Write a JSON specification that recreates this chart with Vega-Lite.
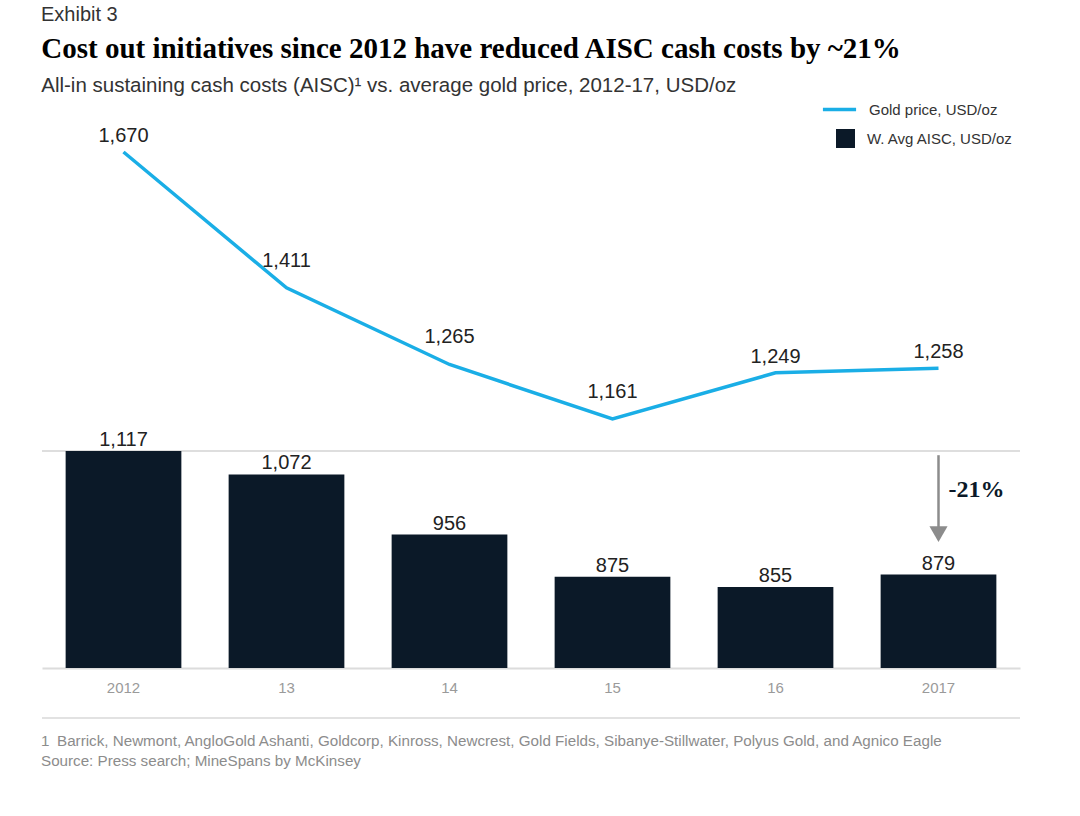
{
  "$schema": "https://vega.github.io/schema/vega-lite/v6.json",
  "background": "white",
  "padding": {"left": 41, "top": 4, "right": 20, "bottom": 10},
  "autosize": {"type": "pad"},
  "config": {"view": {"stroke": null}, "font": "Liberation Sans"},
  "title": {"text": "Exhibit 3", "anchor": "start", "font": "Liberation Sans", "fontSize": 20, "fontWeight": "normal", "color": "#333333", "offset": 10},
  "spacing": 22,
  "vconcat": [
    {
      "width": 978,
      "height": 550,
      "title": {
        "text": "Cost out initiatives since 2012 have reduced AISC cash costs by ~21%",
        "subtitle": "All-in sustaining cash costs (AISC)¹ vs. average gold price, 2012-17, USD/oz",
        "anchor": "start",
        "font": "Liberation Serif",
        "fontSize": 29,
        "fontWeight": "bold",
        "color": "#000000",
        "subtitleFont": "Liberation Sans",
        "subtitleFontSize": 20.5,
        "subtitleColor": "#333333",
        "subtitlePadding": 12,
        "offset": 22
      },
      "data": {"values": [
        {"yr": "2012", "gold": 1670, "aisc": 1117, "grp": "a"},
        {"yr": "13", "gold": 1411, "aisc": 1072, "grp": "b"},
        {"yr": "14", "gold": 1265, "aisc": 956, "grp": "b"},
        {"yr": "15", "gold": 1161, "aisc": 875, "grp": "b"},
        {"yr": "16", "gold": 1249, "aisc": 855, "grp": "a"},
        {"yr": "2017", "gold": 1258, "aisc": 879, "grp": "a"}
      ]},
      "resolve": {"scale": {"y": "independent"}},
      "layer": [
        {
          "mark": {"type": "rule", "color": "#dedede", "strokeWidth": 1.5},
          "encoding": {
            "y": {"datum": 1117, "type": "quantitative", "scale": {"domain": [699, 1758.7], "nice": false, "zero": false}, "axis": null}
          }
        },
        {
          "mark": {"type": "bar"},
          "encoding": {
            "x": {"field": "yr", "type": "ordinal", "sort": null,
              "scale": {"paddingInner": 0.29, "paddingOuter": 0.145},
              "axis": {"title": null, "labelAngle": 0, "ticks": false, "domainColor": "#dcdcdc", "domainWidth": 2, "labelColor": "#9a9a9a", "labelFontSize": 15, "labelPadding": 12, "labelFont": "Liberation Sans"}},
            "y": {"field": "aisc", "type": "quantitative", "scale": {"domain": [699, 1758.7], "nice": false, "zero": false}, "axis": null},
            "y2": {"datum": 699},
            "fill": {"datum": "W. Avg AISC, USD/oz", "scale": {"range": ["#0b1928"]},
              "legend": {"title": null, "orient": "none", "legendX": 794, "legendY": 11, "symbolType": "square", "symbolSize": 361, "symbolStrokeWidth": 0, "labelFontSize": 15, "labelColor": "#333333", "labelOffset": 12, "labelFont": "Liberation Sans", "padding": 0}}
          }
        },
        {
          "mark": {"type": "text", "fontSize": 20, "color": "#222222", "baseline": "alphabetic", "dy": -5, "font": "Liberation Sans"},
          "encoding": {
            "x": {"field": "yr", "type": "ordinal", "sort": null},
            "y": {"field": "aisc", "type": "quantitative", "scale": {"domain": [699, 1758.7], "nice": false, "zero": false}, "axis": null},
            "text": {"field": "aisc", "type": "quantitative", "format": ","}
          }
        },
        {
          "transform": [{"filter": "datum.yr == '2017'"}],
          "mark": {"type": "rule", "color": "#8c8c8c", "strokeWidth": 2.5},
          "encoding": {
            "x": {"field": "yr", "type": "ordinal", "sort": null},
            "y": {"datum": 1109, "type": "quantitative", "scale": {"domain": [699, 1758.7], "nice": false, "zero": false}, "axis": null},
            "y2": {"datum": 965}
          }
        },
        {
          "transform": [{"filter": "datum.yr == '2017'"}],
          "mark": {"type": "point", "shape": "triangle-down", "filled": true, "color": "#8c8c8c", "size": 330, "opacity": 1},
          "encoding": {
            "x": {"field": "yr", "type": "ordinal", "sort": null},
            "y": {"datum": 957, "type": "quantitative", "scale": {"domain": [699, 1758.7], "nice": false, "zero": false}, "axis": null}
          }
        },
        {
          "transform": [{"filter": "datum.yr == '2017'"}],
          "mark": {"type": "text", "font": "Liberation Serif", "fontWeight": "bold", "fontSize": 24, "color": "#0b1928", "align": "left", "baseline": "middle", "dx": 10},
          "encoding": {
            "x": {"field": "yr", "type": "ordinal", "sort": null},
            "y": {"datum": 1042, "type": "quantitative", "scale": {"domain": [699, 1758.7], "nice": false, "zero": false}, "axis": null},
            "text": {"value": "-21%"}
          }
        },
        {
          "mark": {"type": "line", "strokeWidth": 3.5},
          "encoding": {
            "x": {"field": "yr", "type": "ordinal", "sort": null},
            "y": {"field": "gold", "type": "quantitative", "scale": {"domain": [686.4, 1734.8], "nice": false, "zero": false}, "axis": null},
            "stroke": {"datum": "Gold price, USD/oz", "scale": {"range": ["#1aaee6"]},
              "legend": {"title": null, "orient": "none", "legendX": 779, "legendY": -27, "symbolType": "stroke", "symbolSize": 1100, "symbolStrokeWidth": 3.5, "labelFontSize": 15, "labelColor": "#333333", "labelOffset": 11, "labelFont": "Liberation Sans", "padding": 0}}
          }
        },
        {
          "transform": [{"filter": "datum.grp == 'a'"}],
          "mark": {"type": "text", "fontSize": 20, "color": "#222222", "baseline": "alphabetic", "dy": -10, "font": "Liberation Sans"},
          "encoding": {
            "x": {"field": "yr", "type": "ordinal", "sort": null},
            "y": {"field": "gold", "type": "quantitative", "scale": {"domain": [686.4, 1734.8], "nice": false, "zero": false}, "axis": null},
            "text": {"field": "gold", "type": "quantitative", "format": ","}
          }
        },
        {
          "transform": [{"filter": "datum.grp == 'b'"}],
          "mark": {"type": "text", "fontSize": 20, "color": "#222222", "baseline": "alphabetic", "dy": -21, "font": "Liberation Sans"},
          "encoding": {
            "x": {"field": "yr", "type": "ordinal", "sort": null},
            "y": {"field": "gold", "type": "quantitative", "scale": {"domain": [686.4, 1734.8], "nice": false, "zero": false}, "axis": null},
            "text": {"field": "gold", "type": "quantitative", "format": ","}
          }
        }
      ]
    },
    {
      "width": 978,
      "height": 10,
      "data": {"values": [{}]},
      "mark": {"type": "rule", "color": "#e2e2e2", "strokeWidth": 2},
      "encoding": {"y": {"datum": 1, "type": "quantitative", "scale": {"domain": [0, 1]}, "axis": null}},
      "title": {
        "text": ["1\u2002Barrick, Newmont, AngloGold Ashanti, Goldcorp, Kinross, Newcrest, Gold Fields, Sibanye-Stillwater, Polyus Gold, and Agnico Eagle", "Source: Press search; MineSpans by McKinsey"],
        "orient": "bottom", "anchor": "start", "font": "Liberation Sans", "fontSize": 15.2, "fontWeight": "normal", "color": "#8c8c8c", "lineHeight": 20, "offset": 6
      }
    }
  ]
}
